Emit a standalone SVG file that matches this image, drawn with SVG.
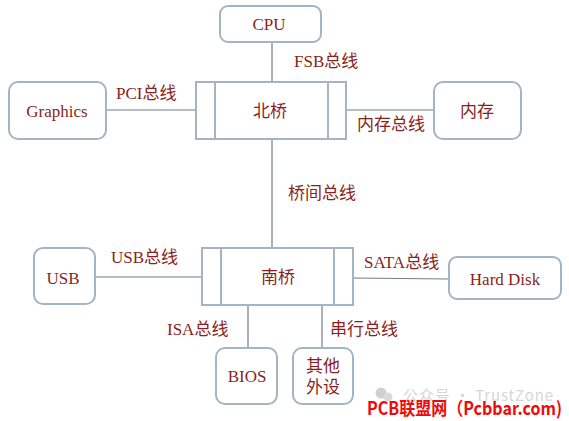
<svg xmlns="http://www.w3.org/2000/svg" width="569" height="421" viewBox="0 0 569 421">
<style>
.box{fill:#ffffff;stroke:#a3b5c4;stroke-width:2}
.bar{fill:none;stroke:#a3b5c4;stroke-width:2}
.ln{fill:none;stroke:#6f7f8c;stroke-width:1.2}
.t{font-size:17px;fill:#8a1f22;dominant-baseline:central}
.c{text-anchor:middle}
</style>
<rect width="569" height="421" fill="#ffffff"/>
<g font-family="Liberation Serif, Noto Sans CJK SC, serif">
<g id="connectors">
<line class="ln" x1="272" y1="42" x2="272" y2="82"/>
<line class="ln" x1="106" y1="110" x2="196" y2="110"/>
<line class="ln" x1="346" y1="110" x2="434" y2="110"/>
<line class="ln" x1="272" y1="139" x2="272" y2="248"/>
<line class="ln" x1="95" y1="277" x2="202" y2="277"/>
<line class="ln" x1="353" y1="278" x2="449" y2="279"/>
<line class="ln" x1="248" y1="305" x2="248" y2="348"/>
<line class="ln" x1="322" y1="305" x2="322" y2="348"/>
<text class="t" x="294" y="61">FSB总线</text>
<text class="t" x="116" y="93">PCI总线</text>
<text class="t" x="357" y="124">内存总线</text>
<text class="t" x="288" y="193">桥间总线</text>
<text class="t" x="111" y="257">USB总线</text>
<text class="t" x="364" y="262">SATA总线</text>
<text class="t" x="167" y="329">ISA总线</text>
<text class="t" x="330" y="329">串行总线</text>
</g>
<g id="cpu">
<rect class="box" x="220" y="6" width="101" height="36" rx="8"/>
<text class="t c" x="269" y="24">CPU</text>
</g>
<g id="northbridge">
<rect class="box" x="196" y="82" width="150" height="57"/>
<line class="bar" x1="215" y1="82" x2="215" y2="139"/>
<line class="bar" x1="328" y1="82" x2="328" y2="139"/>
<text class="t c" x="270" y="111">北桥</text>
</g>
<g id="graphics">
<rect class="box" x="9" y="82" width="97" height="57" rx="9"/>
<text class="t c" x="57" y="111">Graphics</text>
</g>
<g id="memory">
<rect class="box" x="434" y="82" width="87" height="57" rx="9"/>
<text class="t c" x="477" y="111">内存</text>
</g>
<g id="southbridge">
<rect class="box" x="202" y="248" width="151" height="57"/>
<line class="bar" x1="221" y1="248" x2="221" y2="305"/>
<line class="bar" x1="334" y1="248" x2="334" y2="305"/>
<text class="t c" x="278" y="277">南桥</text>
</g>
<g id="usb">
<rect class="box" x="34" y="248" width="61" height="56" rx="9"/>
<text class="t c" x="63" y="278">USB</text>
</g>
<g id="harddisk">
<rect class="box" x="449" y="257" width="112" height="42" rx="8"/>
<text class="t c" x="505" y="279">Hard Disk</text>
</g>
<g id="bios">
<rect class="box" x="216" y="348" width="61" height="56" rx="9"/>
<text class="t c" x="247" y="376">BIOS</text>
</g>
<g id="others">
<rect class="box" x="293" y="348" width="60" height="56" rx="9"/>
<text class="t c" x="323" y="366">其他</text>
<text class="t c" x="323" y="387">外设</text>
</g>
</g>
<g id="watermark">
<circle cx="381" cy="393" r="5.5" fill="#d0d0d0"/>
<circle cx="388" cy="397" r="4.5" fill="#dadada"/>
<text x="403" y="394" font-family="Noto Sans CJK SC, sans-serif" font-size="15" fill="#d6d6d6" dominant-baseline="central" textLength="150" lengthAdjust="spacing">公众号 · TrustZone</text>
<text x="367" y="407" font-family="Noto Sans CJK SC, sans-serif" font-size="18" font-weight="bold" fill="#ee0a0a" dominant-baseline="central" textLength="195" lengthAdjust="spacingAndGlyphs">PCB联盟网（Pcbbar.com)</text>
</g>
</svg>
